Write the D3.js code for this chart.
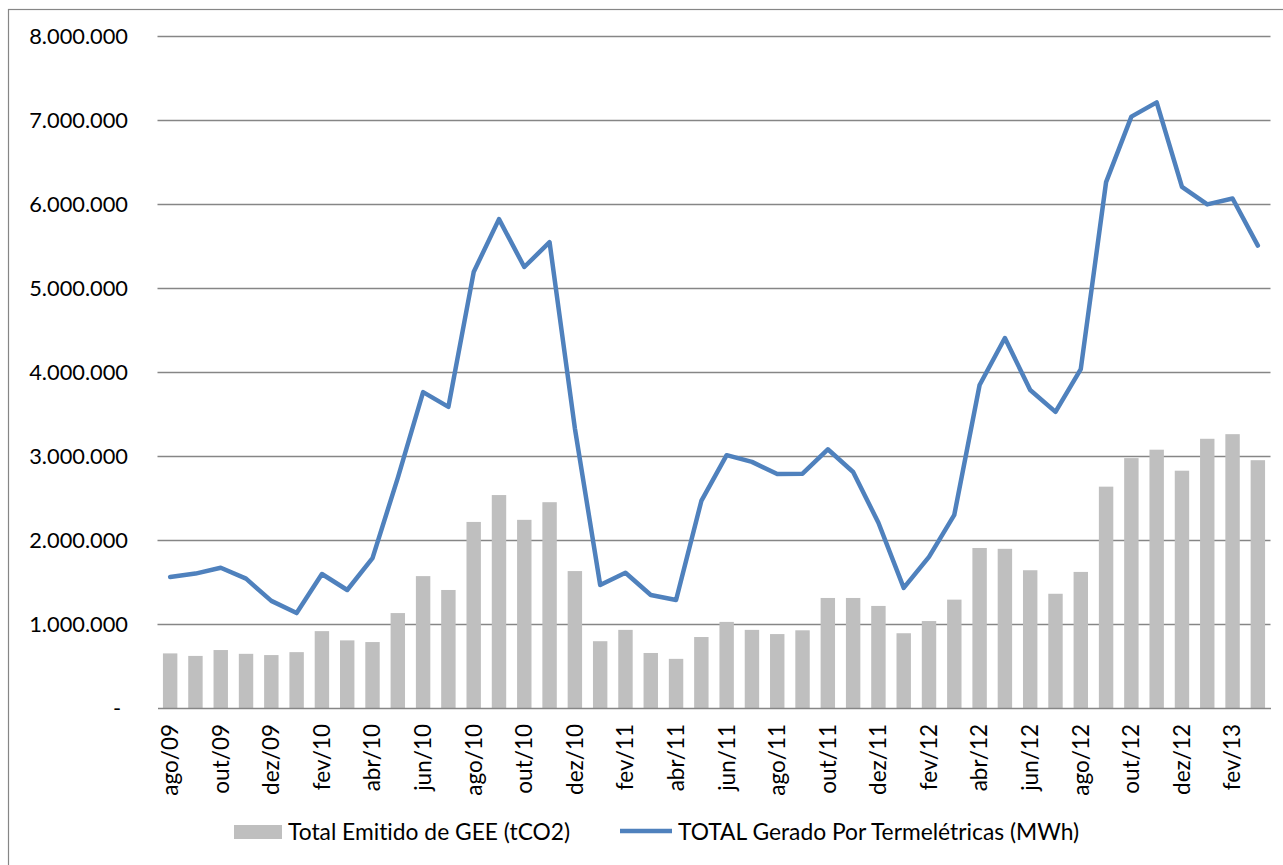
<!DOCTYPE html>
<html><head><meta charset="utf-8">
<script src="https://cdn.jsdelivr.net/npm/d3@7"></script>
<style>body{margin:0;background:#fff}svg{display:block}text{font-family:Lato,"Open Sans",sans-serif;fill:#000;font-variant-ligatures:none;font-feature-settings:"liga" 0}</style>
</head><body>
<svg id="c" width="1283" height="865"></svg>
<script>
const months = ["ago/09","set/09","out/09","nov/09","dez/09","jan/10","fev/10","mar/10","abr/10","mai/10","jun/10","jul/10","ago/10","set/10","out/10","nov/10","dez/10","jan/11","fev/11","mar/11","abr/11","mai/11","jun/11","jul/11","ago/11","set/11","out/11","nov/11","dez/11","jan/12","fev/12","mar/12","abr/12","mai/12","jun/12","jul/12","ago/12","set/12","out/12","nov/12","dez/12","jan/13","fev/13","mar/13"];
const emissions = [650000,620000,690000,645000,630000,665000,915000,805000,785000,1130000,1570000,1405000,2215000,2535000,2240000,2450000,1630000,795000,930000,655000,585000,845000,1025000,930000,880000,925000,1310000,1310000,1215000,890000,1035000,1290000,1905000,1895000,1640000,1360000,1620000,2635000,2975000,3075000,2825000,3205000,3260000,2950000];
const generation = [1560000,1600000,1670000,1540000,1275000,1130000,1595000,1405000,1785000,2740000,3760000,3585000,5190000,5820000,5250000,5545000,3330000,1465000,1610000,1345000,1285000,2465000,3010000,2930000,2785000,2790000,3080000,2810000,2205000,1430000,1800000,2300000,3845000,4405000,3785000,3525000,4035000,6260000,7040000,7210000,6205000,5995000,6065000,5505000];
const yTicks = [0,1000000,2000000,3000000,4000000,5000000,6000000,7000000,8000000];
const seriesNames = ["Total Emitido de GEE (tCO2)","TOTAL Gerado Por Termelétricas (MWh)"];

const svg = d3.select("#c");
svg.append("rect").attr("x",8.5).attr("y",9.5).attr("width",1300).attr("height",900)
  .attr("fill","none").attr("stroke","#868686").attr("stroke-width",1.2);

const x = d3.scaleBand().domain(months).range([157.5,1270.5]).paddingInner(0.43).paddingOuter(0.215);
const y = d3.scaleLinear().domain([0,8000000]).range([708,36]);
const fmt = v => v===0 ? "-" : d3.format(",")(v).replace(/,/g,".");

// gridlines
svg.append("g").selectAll("line").data(yTicks.filter(d=>d>0)).join("line")
  .attr("x1",157.5).attr("x2",1270.5).attr("y1",d=>Math.round(y(d))+0.5).attr("y2",d=>Math.round(y(d))+0.5)
  .attr("stroke","#868686").attr("stroke-width",1.3);

// y axis labels
const ya = svg.append("g").attr("transform","translate(128,0)")
  .call(d3.axisLeft(y).tickValues(yTicks).tickSize(0).tickPadding(0).tickFormat(fmt));
ya.select(".domain").remove();
ya.selectAll("text").style("font-size","21.8px").attr("fill","#000")
  .attr("dx",d=>d===0?-7:0).attr("dy","0.35em");

// bars
svg.append("g").selectAll("rect").data(emissions).join("rect")
  .attr("x",(d,i)=>x(months[i])).attr("width",x.bandwidth())
  .attr("y",d=>y(d)).attr("height",d=>y(0)-y(d)).attr("fill","#BFBFBF");

// x axis
const xa = svg.append("g").attr("transform","translate(0,708)")
  .call(d3.axisBottom(x).tickSize(0).tickPadding(0).tickFormat((d,i)=>i%2===0?d:""));
xa.select(".domain").attr("stroke","#868686").attr("stroke-width",1.5);
xa.selectAll("text").style("font-size","22.5px").attr("fill","#000")
  .attr("text-anchor","end").attr("transform","rotate(-90)")
  .attr("x",-16).attr("y",0).attr("dy","0.35em");

// line
const line = d3.line().x((d,i)=>x(months[i])+x.bandwidth()/2).y(d=>y(d));
svg.append("path").datum(generation).attr("d",line).attr("fill","none")
  .attr("stroke","#4F81BD").attr("stroke-width",4.5).attr("stroke-linejoin","round").attr("stroke-linecap","round");

// legend
const lg = svg.append("g");
lg.append("rect").attr("x",234).attr("y",825).attr("width",48).attr("height",14).attr("fill","#BFBFBF");
lg.append("text").attr("x",288).attr("y",832).attr("dy","0.35em").style("font-size","22.8px").text(seriesNames[0]);
lg.append("line").attr("x1",620).attr("x2",672).attr("y1",831).attr("y2",831).attr("stroke","#4F81BD").attr("stroke-width",4.5);
lg.append("text").attr("x",678).attr("y",832).attr("dy","0.35em").style("font-size","22.8px").text(seriesNames[1]);
</script>
</body></html>
